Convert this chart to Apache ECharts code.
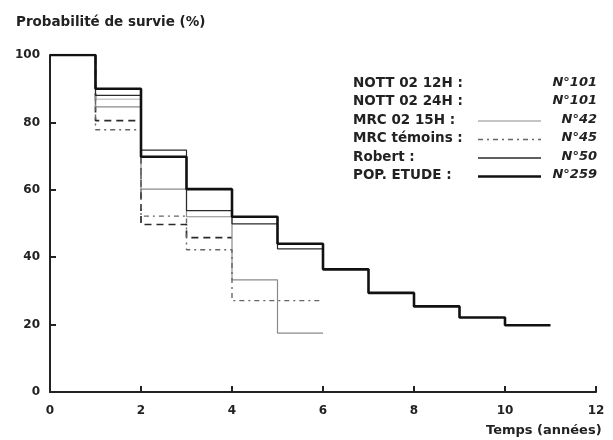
<!DOCTYPE html>
<html>
<head>
<meta charset="utf-8">
<script src="https://cdn.jsdelivr.net/npm/echarts@6/dist/echarts.min.js"></script>
<style>html,body{margin:0;padding:0;background:#fff}#c{width:613px;height:440px}</style>
</head>
<body>
<div id="c"></div>
<script>
// ---- data ----
const seriesNames = ['NOTT 02 12H', 'NOTT 02 24H', 'MRC 02 15H', 'MRC témoins', 'Robert', 'POP. ETUDE'];
const legendLabels = ['NOTT 02 12H :', 'NOTT 02 24H :', 'MRC 02 15H :', 'MRC témoins :', 'Robert :', 'POP. ETUDE :'];
const legendCounts = ['N°101', 'N°101', 'N°42', 'N°45', 'N°50', 'N°259'];

const nott12Times = [0, 1, 2, 3, 4];
const nott12Values = [100, 80.5, 49.7, 45.8, 45.8];
const nott24Times = [0, 1, 2];
const nott24Values = [100, 86.9, 86.9];
const mrc15Times = [0, 1, 2, 3, 4, 5, 6];
const mrc15Values = [100, 84.6, 60.2, 52, 33.3, 17.5, 17.5];
const mrcTemTimes = [0, 1, 2, 3, 4, 5, 6];
const mrcTemValues = [100, 77.8, 52.2, 42.2, 27.1, 27.1, 27.1];
const robertTimes = [0, 1, 2, 3, 4, 5, 6];
const robertValues = [100, 88, 71.8, 53.8, 49.9, 42.5, 42.5];
const popTimes = [0, 1, 2, 3, 4, 5, 6, 7, 8, 9, 10, 11];
const popValues = [100, 90, 69.8, 60.2, 52, 44, 36.4, 29.4, 25.4, 22.1, 19.8, 19.8];

const xTicks = [0, 2, 4, 6, 8, 10, 12];
const yTicks = [0, 20, 40, 60, 80, 100];
const yTitle = 'Probabilité de survie (%)';
const xTitle = 'Temps (années)';

// ---- build ----
const zip = (t, v) => t.map((x, i) => [x, v[i]]);
const FONT = 'DejaVu Sans';
const styles = [
  { color: '#2a2a2a', width: 1.7, type: [7, 5] },
  { color: '#b0b0b0', width: 1, type: 'solid' },
  { color: '#8a8a8a', width: 1.2, type: 'solid' },
  { color: '#666666', width: 1.4, type: [5, 4, 2, 4] },
  { color: '#2a2a2a', width: 1.2, type: 'solid' },
  { color: '#111111', width: 2.6, type: 'solid' }
];
const dataSets = [
  zip(nott12Times, nott12Values),
  zip(nott24Times, nott24Values),
  zip(mrc15Times, mrc15Values),
  zip(mrcTemTimes, mrcTemValues),
  zip(robertTimes, robertValues),
  zip(popTimes, popValues)
];

const series = dataSets.map((d, i) => ({
  name: seriesNames[i],
  type: 'line',
  step: 'end',
  data: d,
  symbol: 'none',
  lineStyle: styles[i],
  z: 2 + i,
  animation: false
}));

// legend drawn as graphic (label, sample, count)
const legendTop = 84, legendStep = 18.5;
const graphic = [];
legendLabels.forEach((lab, i) => {
  const y = legendTop + i * legendStep;
  graphic.push({ type: 'text', left: 353, top: y - 8, style: { text: lab, font: 'bold 13.5px ' + FONT, fill: '#222' } });
  graphic.push({ type: 'text', right: 16, top: y - 8, style: { text: legendCounts[i], font: 'italic bold 13px ' + FONT, fill: '#222' } });
  if (i >= 2) {
    graphic.push({ type: 'line', shape: { x1: 478, y1: y, x2: 541, y2: y }, style: { stroke: styles[i].color, lineWidth: i === 4 ? 1.5 : styles[i].width, lineDash: Array.isArray(styles[i].type) ? styles[i].type : null } });
  }
});
graphic.push({ type: 'text', left: 16, top: 15, style: { text: yTitle, font: 'bold 13.5px ' + FONT, fill: '#222' } });
graphic.push({ type: 'text', left: 486, top: 424, style: { text: xTitle, font: 'bold 13px ' + FONT, fill: '#222' } });

const chart = echarts.init(document.getElementById('c'), null, { renderer: 'canvas' });
chart.setOption({
  animation: false,
  backgroundColor: '#fff',
  grid: { left: 50, right: 17, top: 55, bottom: 48, containLabel: false },
  xAxis: {
    type: 'value', min: 0, max: 12, interval: 2,
    axisLine: { show: true, lineStyle: { color: '#222', width: 2 } },
    axisTick: { show: true, inside: true, length: 6, lineStyle: { color: '#222', width: 2 } },
    axisLabel: { fontFamily: FONT, fontWeight: 'bold', fontSize: 12, color: '#222', margin: 13,
      formatter: v => xTicks.includes(v) ? String(v) : '' },
    splitLine: { show: false }
  },
  yAxis: {
    type: 'value', min: 0, max: 100, interval: 20,
    axisLine: { show: true, lineStyle: { color: '#222', width: 2 } },
    axisTick: { show: true, inside: true, length: 6, lineStyle: { color: '#222', width: 2 } },
    axisLabel: { fontFamily: FONT, fontWeight: 'bold', fontSize: 12, color: '#222', margin: 10,
      formatter: v => yTicks.includes(v) ? String(v) : '' },
    splitLine: { show: false }
  },
  series: series,
  graphic: graphic
});
</script>
</body>
</html>
